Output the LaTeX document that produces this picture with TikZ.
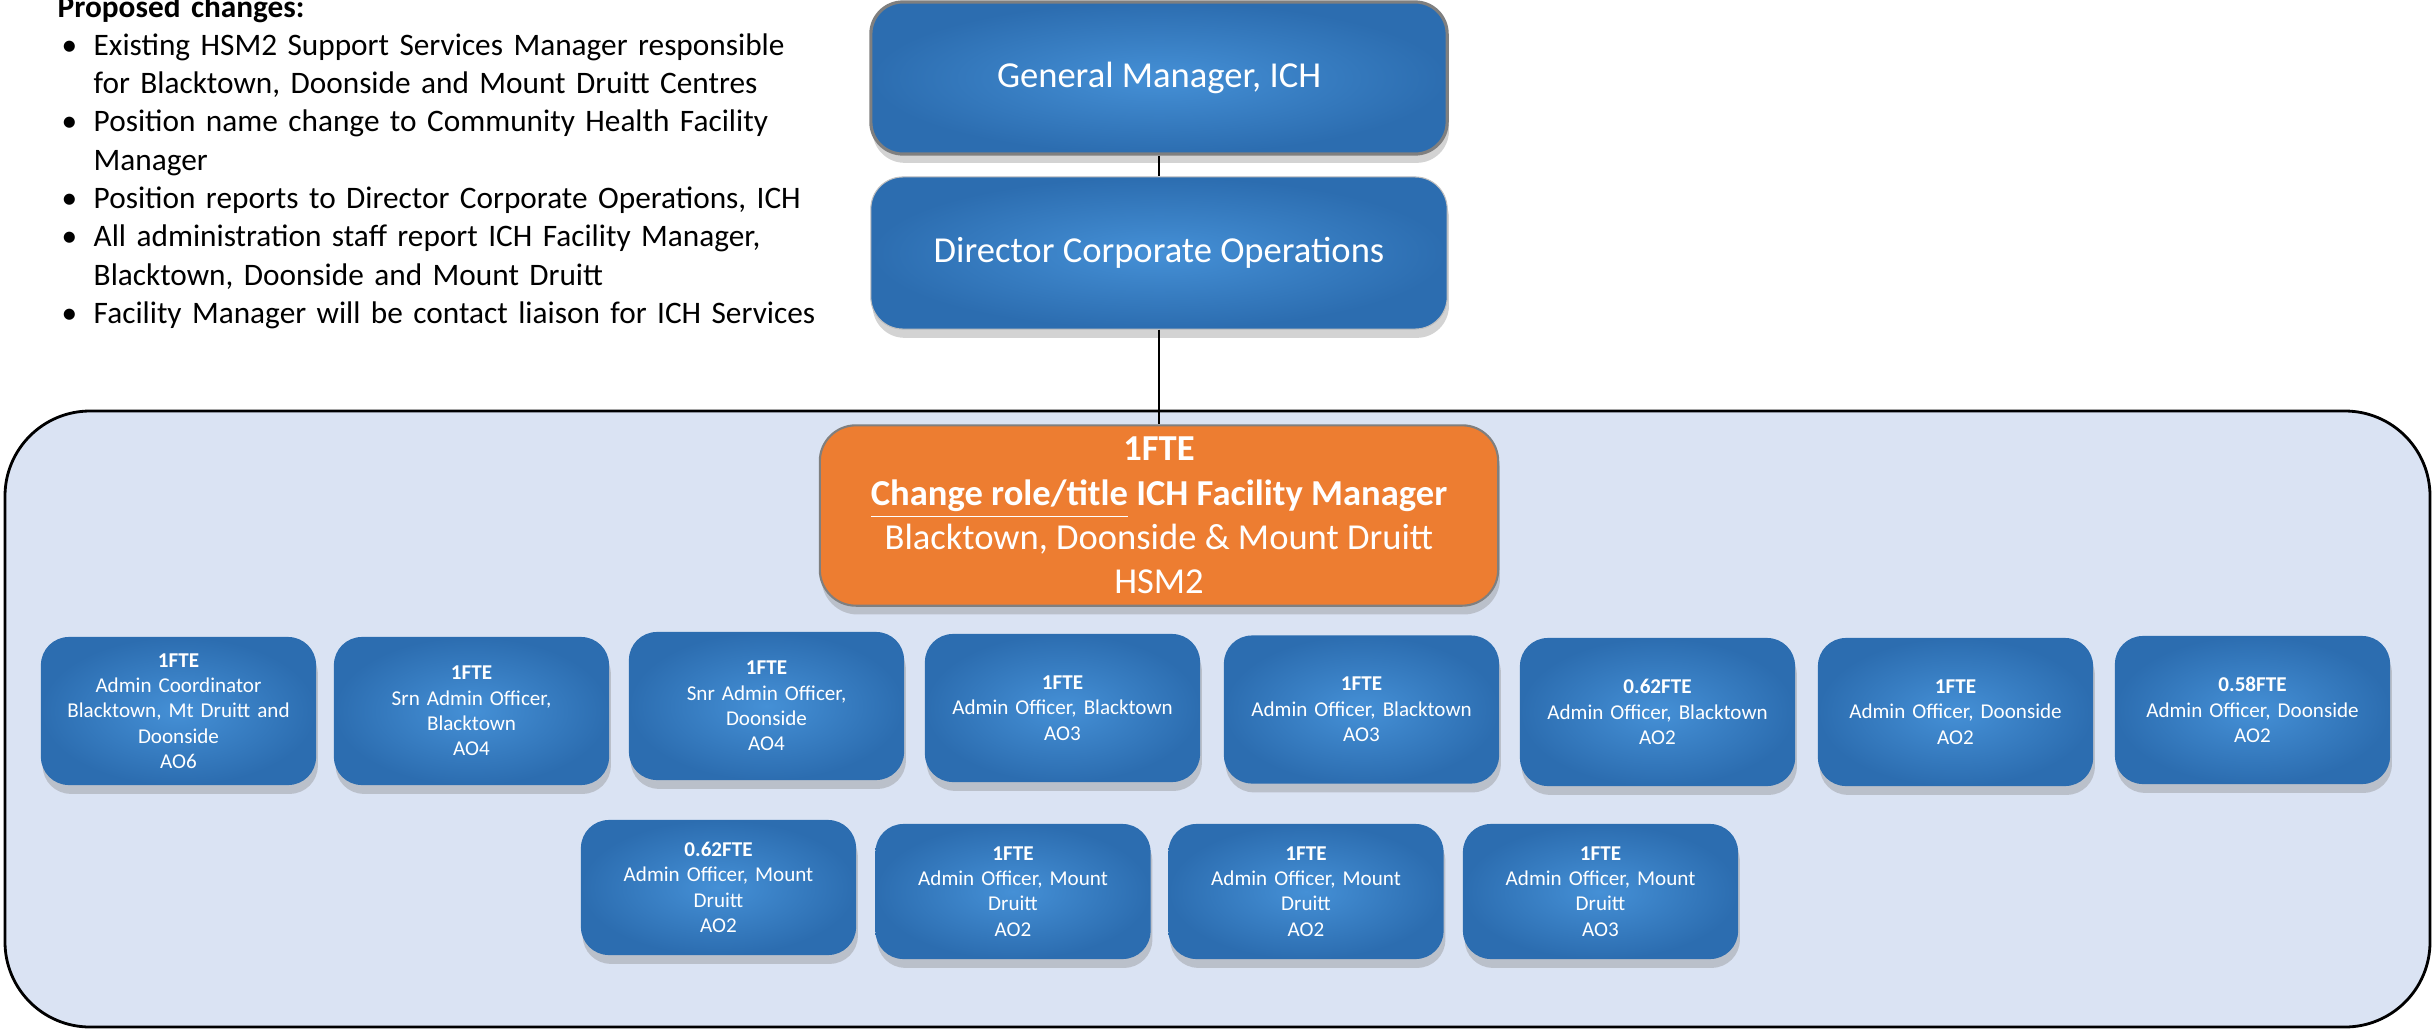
\documentclass[tikz,border=0pt]{standalone}
\usepackage{fontspec}
\setmainfont{Carlito}
\usetikzlibrary{shadows}
\newcommand{\px}{0.01cm}
\newcommand{\changeitem}[1]{\par\hangindent=0.36cm\hangafter=1\noindent\makebox[0.36cm][l]{\hspace{0.04cm}\textbullet}#1}
\definecolor{panelfill}{HTML}{DAE3F3}
\definecolor{boxlight}{HTML}{4590D6}
\definecolor{boxdark}{HTML}{2C6DB0}
\definecolor{mgrorange}{HTML}{ED7D31}
\definecolor{edgegray}{HTML}{7F7F7F}

\begin{document}
\begin{tikzpicture}[x=\px,y=-\px]
\useasboundingbox (0,0) rectangle (2433,1030);
\tikzstyle{bluebox}=[rounded corners=0.28cm,
                     inner color=boxlight,
                     outer color=boxdark,
                     text=white,
                     align=center,
                     drop shadow={shadow xshift=0.5pt,shadow yshift=-2.5pt,opacity=0.35}
                     ]
\tikzstyle{topbox}=[bluebox,
                    minimum width=5.76cm,
                    minimum height=1.52cm,
                    rounded corners=0.32cm,
                    font=\fontsize{10.4}{12.2}\selectfont
                    ]
\tikzstyle{staffbox}=[bluebox,
                      minimum width=2.75cm,
                      minimum height=1.48cm,
                      text width=2.6cm,
                      inner sep=0pt,
                      font=\fontsize{6}{7.2}\selectfont
                      ]
\tikzstyle{link}=[black,line width=0.5pt]

\node[anchor=base west,inner sep=0pt,text width=8cm,align=left,
      font=\fontsize{8.9}{10.9}\selectfont] (changes) at (57,17)
  {\textbf{Proposed changes:}
   \changeitem{Existing HSM2 Support Services Manager responsible\newline for Blacktown, Doonside and Mount Druitt Centres}
   \changeitem{Position name change to Community Health Facility\newline Manager}
   \changeitem{Position reports to Director Corporate Operations, ICH}
   \changeitem{All administration staff report ICH Facility Manager,\newline Blacktown, Doonside and Mount Druitt}
   \changeitem{Facility Manager will be contact liaison for ICH Services}};

\draw[black,fill=panelfill,line width=0.8pt,rounded corners=0.85cm] (5,411) rectangle (2430,1027);

\node[topbox,draw=edgegray,line width=0.9pt] (gm) at (1159,78) {General Manager, ICH};
\node[topbox,draw=edgegray!50,line width=0.3pt] (dco) at (1159,253) {Director Corporate Operations};
\node[rounded corners=0.36cm,fill=mgrorange,draw=edgegray,line width=0.6pt,
      minimum width=6.78cm,minimum height=1.77cm,text=white,align=center,
      drop shadow={shadow xshift=0.5pt,shadow yshift=-2.5pt,opacity=0.35},
      font=\fontsize{10.4}{12.6}\selectfont] (fm) at (1159,515.5)
  {\textbf{1FTE}\\\textbf{\underline{Change role/title} ICH Facility Manager}\\Blacktown, Doonside \& Mount Druitt\\HSM2};

\draw[link] (gm) -- (dco);
\draw[link] (dco) -- (fm);

\node[staffbox] (coord) at (178.5,711) {\textbf{1FTE}\\Admin Coordinator\\Blacktown, Mt Druitt and\\Doonside\\AO6};
\node[staffbox] (srnbt) at (471.5,711) {\textbf{1FTE}\\Srn Admin Officer,\\Blacktown\\AO4};
\node[staffbox] (snrdn) at (766.5,706) {\textbf{1FTE}\\Snr Admin Officer,\\Doonside\\AO4};
\node[staffbox] (aobt1) at (1062.5,708) {\textbf{1FTE}\\Admin Officer, Blacktown\\AO3};
\node[staffbox] (aobt2) at (1361.5,709.5) {\textbf{1FTE}\\Admin Officer, Blacktown\\AO3};
\node[staffbox] (aobt3) at (1657.5,712) {\textbf{0.62FTE}\\Admin Officer, Blacktown\\AO2};
\node[staffbox] (aodn1) at (1955.5,712) {\textbf{1FTE}\\Admin Officer, Doonside\\AO2};
\node[staffbox] (aodn2) at (2252.5,710) {\textbf{0.58FTE}\\Admin Officer, Doonside\\AO2};

\node[staffbox,minimum height=1.35cm] (aomd1) at (718.5,887.5) {\textbf{0.62FTE}\\Admin Officer, Mount\\Druitt\\AO2};
\node[staffbox,minimum height=1.35cm] (aomd2) at (1013,891.5) {\textbf{1FTE}\\Admin Officer, Mount\\Druitt\\AO2};
\node[staffbox,minimum height=1.35cm] (aomd3) at (1306,891.5) {\textbf{1FTE}\\Admin Officer, Mount\\Druitt\\AO2};
\node[staffbox,minimum height=1.35cm] (aomd4) at (1600.5,891.5) {\textbf{1FTE}\\Admin Officer, Mount\\Druitt\\AO3};
\end{tikzpicture}
\end{document}
